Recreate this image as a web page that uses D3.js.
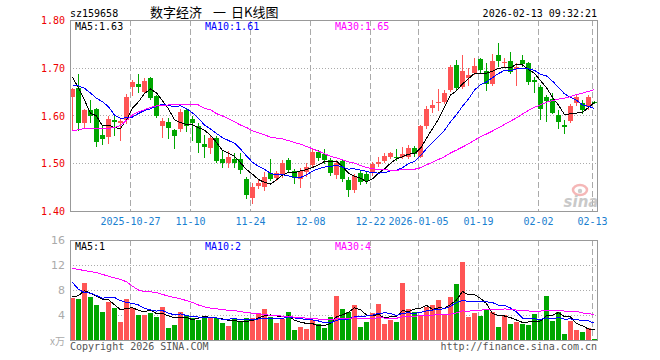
<!DOCTYPE html>
<html>
<head>
<meta charset="utf-8">
<script src="https://cdn.jsdelivr.net/npm/d3@7"></script>
<style>
  body { margin: 0; background: #fff; }
  svg { display: block; }
  text { font-family: "DejaVu Sans Mono", monospace; font-size: 10px; }
</style>
</head>
<body>
<svg id="chart"></svg>
<script>
// daily candles, sz159658, 2025-10-13 .. 2026-02-13
const open = [1.639,1.657,1.584,1.612,1.614,1.559,1.555,1.591,1.584,1.591,
  1.659,1.666,1.650,1.678,1.641,1.578,1.587,1.570,1.572,1.612,
  1.592,1.577,1.540,1.532,1.553,1.509,1.501,1.509,1.509,1.468,
  1.428,1.452,1.451,1.479,1.469,1.477,1.507,1.484,1.467,1.482,
  1.496,1.524,1.519,1.506,1.475,1.504,1.465,1.443,1.479,1.478,
  1.479,1.498,1.505,1.514,1.514,1.514,1.514,1.531,1.514,1.577,
  1.615,1.626,1.629,1.653,1.706,1.660,1.678,1.690,1.718,1.693,
  1.665,1.727,1.709,1.714,1.697,1.716,1.709,1.674,1.659,1.638,
  1.635,1.601,1.580,1.589,1.626,1.627,1.617,1.629];
const close = [1.655,1.584,1.612,1.599,1.545,1.551,1.592,1.587,1.588,1.639,
  1.671,1.659,1.672,1.636,1.599,1.589,1.573,1.557,1.608,1.578,
  1.585,1.543,1.533,1.553,1.505,1.500,1.514,1.501,1.485,1.434,
  1.451,1.458,1.472,1.467,1.479,1.501,1.486,1.469,1.484,1.493,
  1.524,1.512,1.506,1.480,1.500,1.467,1.443,1.473,1.460,1.463,
  1.498,1.503,1.515,1.521,1.510,1.519,1.531,1.519,1.578,1.613,
  1.622,1.629,1.648,1.702,1.658,1.693,1.685,1.704,1.695,1.665,
  1.714,1.715,1.713,1.692,1.702,1.707,1.670,1.671,1.614,1.630,
  1.605,1.587,1.575,1.620,1.639,1.612,1.639,1.627];
const high = [1.658,1.687,1.614,1.632,1.616,1.578,1.599,1.601,1.594,1.645,
  1.674,1.687,1.679,1.681,1.643,1.595,1.595,1.572,1.614,1.614,
  1.598,1.584,1.559,1.559,1.557,1.528,1.526,1.521,1.521,1.471,
  1.459,1.465,1.482,1.508,1.484,1.507,1.511,1.488,1.490,1.500,
  1.532,1.528,1.530,1.511,1.507,1.507,1.471,1.477,1.486,1.482,
  1.503,1.513,1.522,1.524,1.529,1.534,1.538,1.536,1.580,1.620,
  1.632,1.655,1.653,1.706,1.716,1.727,1.699,1.720,1.720,1.710,
  1.729,1.751,1.720,1.732,1.709,1.727,1.712,1.681,1.664,1.643,
  1.647,1.612,1.591,1.624,1.644,1.632,1.643,1.630];
const low = [1.572,1.570,1.574,1.586,1.536,1.540,1.542,1.559,1.549,1.584,
  1.643,1.649,1.647,1.635,1.597,1.555,1.553,1.532,1.568,1.568,
  1.549,1.524,1.514,1.521,1.503,1.492,1.492,1.492,1.479,1.428,
  1.417,1.448,1.444,1.465,1.465,1.472,1.482,1.459,1.450,1.473,
  1.492,1.507,1.500,1.475,1.469,1.463,1.432,1.440,1.457,1.459,
  1.475,1.494,1.503,1.511,1.507,1.511,1.511,1.515,1.513,1.574,
  1.607,1.612,1.626,1.651,1.653,1.658,1.664,1.687,1.689,1.653,
  1.664,1.704,1.702,1.688,1.664,1.704,1.666,1.650,1.592,1.589,
  1.605,1.573,1.563,1.586,1.622,1.605,1.614,1.626];
// volume, 万
const volume = [6.77,6.56,9.17,6.88,5.6,4.48,6.13,5.12,2.93,6.56,
  5.12,4.0,4.0,4.32,3.68,5.28,1.97,2.4,4.48,3.84,
  3.52,3.2,3.84,3.52,3.52,2.72,2.24,3.36,3.04,3.52,
  3.52,4.32,4.96,3.68,2.72,3.36,4.48,1.6,2.08,1.76,
  3.2,2.56,1.92,3.68,7.04,4.96,4.48,5.6,2.08,2.88,
  4.32,5.76,2.56,3.2,2.88,9.17,4.96,4.48,4.0,5.28,
  5.6,6.4,4.16,6.88,8.96,12.48,3.68,4.32,3.84,4.8,
  4.48,2.08,4.0,2.56,2.88,2.56,2.4,4.16,3.2,7.04,
  3.04,4.48,0.96,3.04,1.6,1.28,1.92,0.16];

// moving average values before a full window is available
const ma5Head = [1.681,1.657,1.632,1.605];
const ma10Head = [1.664,1.662,1.657,1.647,1.636,1.629,1.618,1.601,1.594];
const ma30Head = [1.568,1.570,1.573,1.573,1.573,1.573,1.573,1.575,1.579,1.590,
  1.601,1.608,1.612,1.617,1.620,1.621,1.622,1.622,1.622,1.622,
  1.622,1.622,1.615,1.612,1.604,1.599,1.593,1.587,1.580];
const vma5Head = [6.9,7.1,7.9,7.5];
const vma10Head = [9.2,8.1,7.6,7.5,7.1,6.7,6.8,6.8,6.3];
const vma30Head = [11.47,11.3,11.1,10.95,10.8,10.5,10.2,9.95,9.7,9.3,
  8.6,8.0,7.7,7.7,7.6,7.3,7.0,6.8,6.6,6.3,
  6.0,5.6,5.3,5.1,5.0,4.85,4.75,4.7,4.55];

const priceTicks = [1.80, 1.70, 1.60, 1.50, 1.40];
const volTicks = [16, 12, 8, 4];
const dateIdx = [10, 20, 30, 40, 50, 58, 68, 78, 87];
const dateLabels = ['2025-10-27','11-10','11-24','12-08','12-22','2026-01-05','01-19','02-02','02-13'];

const width = 660, height = 360;
const left = 70, right = 597;
const pTop = 20, pBottom = 211;
const vTop = 240, vBottom = 340;
const UP = '#ff5555', DOWN = '#00a600';
const MA_COLORS = ['#000', '#0000ff', '#ff00ff'];

const svg = d3.select('#chart').attr('width', width).attr('height', height);

const n = close.length;
const x = d3.scaleBand().domain(d3.range(n)).range([left, left + 6 * n]);
const y = d3.scaleLinear().domain([1.40, 1.80]).range([pBottom, pTop]);
const yv = d3.scaleLinear().domain([0, 16]).range([vBottom, vTop]);

function movingAvg(vals, len, head) {
  return vals.map((v, i) => i < len - 1 ? head[i] : d3.mean(vals.slice(i - len + 1, i + 1)));
}
const ma = [movingAvg(close, 5, ma5Head), movingAvg(close, 10, ma10Head), movingAvg(close, 30, ma30Head)];
const vma = [movingAvg(volume, 5, vma5Head), movingAvg(volume, 10, vma10Head), movingAvg(volume, 30, vma30Head)];

const cx = i => x(i) + 2.5;

// grid
const grid = svg.append('g').attr('shape-rendering', 'crispEdges');
[[pTop, pBottom], [vTop, vBottom]].forEach(([t, b]) => {
  grid.selectAll(null).data(dateIdx).enter().append('line')
    .attr('x1', i => x(i) + 0.5).attr('x2', i => x(i) + 0.5)
    .attr('y1', t).attr('y2', b)
    .attr('stroke', '#aaa').attr('stroke-dasharray', '6,3');
});
grid.selectAll(null).data(priceTicks.slice(1, -1)).enter().append('line')
  .attr('x1', left).attr('x2', right)
  .attr('y1', d => Math.round(y(d)) + 0.5).attr('y2', d => Math.round(y(d)) + 0.5)
  .attr('stroke', '#aaa').attr('stroke-dasharray', '1,2');
grid.selectAll(null).data(volTicks.slice(1)).enter().append('line')
  .attr('x1', left).attr('x2', right)
  .attr('y1', d => Math.round(yv(d)) + 0.5).attr('y2', d => Math.round(yv(d)) + 0.5)
  .attr('stroke', '#aaa').attr('stroke-dasharray', '1,2');

// sina watermark
const logo = svg.append('g').attr('opacity', 0.75);
logo.append('ellipse').attr('cx', 580).attr('cy', 190).attr('rx', 7).attr('ry', 5)
  .attr('fill', 'none').attr('stroke', '#f2a0a0').attr('stroke-width', 2.5);
logo.append('circle').attr('cx', 580).attr('cy', 191).attr('r', 2.2).attr('fill', '#bbb');
logo.append('text').attr('x', 581).attr('y', 207).attr('text-anchor', 'middle')
  .style('font-family', 'DejaVu Sans').style('font-size', '15px')
  .style('font-weight', 'bold').style('font-style', 'italic')
  .attr('fill', '#b8b8b8').text('sina');

// candles
const candles = svg.append('g').attr('shape-rendering', 'crispEdges');
const idx = d3.range(n);
candles.selectAll('line').data(idx).enter().append('line')
  .attr('x1', cx).attr('x2', cx)
  .attr('y1', i => Math.round(y(high[i]))).attr('y2', i => Math.round(y(low[i])) + 1)
  .attr('stroke', i => close[i] >= open[i] ? UP : DOWN);
candles.selectAll('rect').data(idx).enter().append('rect')
  .attr('x', i => x(i))
  .attr('y', i => Math.round(y(Math.max(open[i], close[i]))))
  .attr('width', 5)
  .attr('height', i => Math.max(1, Math.round(y(Math.min(open[i], close[i]))) - Math.round(y(Math.max(open[i], close[i])))))
  .attr('fill', i => close[i] >= open[i] ? UP : DOWN);

// volume bars
svg.append('g').attr('shape-rendering', 'crispEdges')
  .selectAll('rect').data(idx).enter().append('rect')
  .attr('x', i => x(i))
  .attr('y', i => Math.round(yv(volume[i])))
  .attr('width', 5)
  .attr('height', i => vBottom - Math.round(yv(volume[i])))
  .attr('fill', i => close[i] >= open[i] ? UP : DOWN);

// moving average lines
const priceLine = d3.line().x((d, i) => cx(i)).y(d => y(d));
const volLine = d3.line().x((d, i) => cx(i)).y(d => yv(d));
ma.forEach((s, k) => svg.append('path').attr('d', priceLine(s))
  .attr('fill', 'none').attr('stroke', MA_COLORS[k]).attr('shape-rendering', 'crispEdges'));
vma.forEach((s, k) => svg.append('path').attr('d', volLine(s))
  .attr('fill', 'none').attr('stroke', MA_COLORS[k]).attr('shape-rendering', 'crispEdges'));

// frames
const frames = svg.append('g').attr('shape-rendering', 'crispEdges');
[[pTop, pBottom], [vTop, vBottom]].forEach(([t, b]) => {
  frames.append('rect').attr('x', left + 0.5).attr('y', t + 0.5)
    .attr('width', right - left).attr('height', b - t)
    .attr('fill', 'none').attr('stroke', '#999');
});

// axis labels
svg.selectAll('.py').data(priceTicks).enter().append('text')
  .attr('x', 65).attr('y', d => y(d) + 4).attr('text-anchor', 'end')
  .attr('fill', '#ee0000').text(d => d.toFixed(2));
svg.selectAll('.vy').data(volTicks).enter().append('text')
  .attr('x', 65).attr('y', d => yv(d) + 4).attr('text-anchor', 'end')
  .style('font-family', 'DejaVu Sans').style('font-size', '11px')
  .attr('fill', '#aaa').text(d => d);
svg.append('text').attr('x', 65).attr('y', vBottom + 5).attr('text-anchor', 'end')
  .style('font-family', 'Noto Sans CJK SC').style('font-size', '10px')
  .attr('fill', '#aaa').text('x万');
svg.selectAll('.dx').data(dateIdx).enter().append('text')
  .attr('x', i => x(i) + 0.5).attr('y', 225).attr('text-anchor', 'middle')
  .attr('fill', '#1a80d0').text((d, k) => dateLabels[k]);

// header
svg.append('text').attr('x', 70).attr('y', 17).attr('fill', '#000').text('sz159658');
const titleParts = [['数字经济', 150], ['一', 213], ['日K线图', 231]];
titleParts.forEach(([t, tx]) => svg.append('text').attr('x', tx).attr('y', 17)
  .style('font-family', 'Noto Sans CJK SC').style('font-size', '13px')
  .attr('fill', '#000').text(t));
svg.append('text').attr('x', right).attr('y', 17).attr('text-anchor', 'end')
  .attr('fill', '#000').text('2026-02-13 09:32:21');

// legends
const legendX = [75, 205, 335];
const names = ['MA5', 'MA10', 'MA30'];
names.forEach((nm, k) => {
  svg.append('text').attr('x', legendX[k]).attr('y', 30).attr('fill', MA_COLORS[k])
    .text(`${nm}:${ma[k][n - 1].toFixed(2)}`);
  svg.append('text').attr('x', legendX[k]).attr('y', 250).attr('fill', MA_COLORS[k])
    .text(`${nm}:${Math.floor(vma[k][n - 1])}`);
});

// footer
svg.append('text').attr('x', 70).attr('y', 350).attr('fill', '#555').text('Copyright 2026 SINA.COM');
svg.append('text').attr('x', right).attr('y', 350).attr('text-anchor', 'end')
  .attr('fill', '#555').text('http://finance.sina.com.cn');
</script>
</body>
</html>
